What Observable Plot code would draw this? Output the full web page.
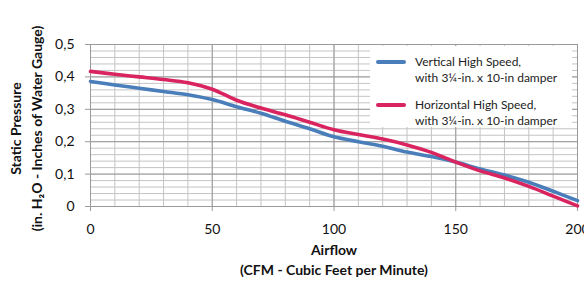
<!DOCTYPE html>
<html>
<head>
<meta charset="utf-8">
<script src="https://cdn.jsdelivr.net/npm/d3@7"></script>
<script src="https://cdn.jsdelivr.net/npm/@observablehq/plot@0.6"></script>
<style>
  html, body { margin: 0; padding: 0; background: #fff; }
  #wrap { position: relative; width: 584px; height: 285px; font-family: Lato, "Open Sans", sans-serif; }
  #legend { position: absolute; left: 370px; top: 46px; width: 202px; height: 81px; background: #fff; font-size: 12px; color: #222; }
  .item { position: absolute; left: 6px; display: flex; align-items: flex-start; }
  .sw { width: 30px; height: 3.5px; margin-top: 6px; margin-right: 9px; border-radius: 2px; }
  .lbl { line-height: 16px; }
</style>
</head>
<body>
<div id="wrap"></div>
<script>
const airflow = [0,10,20,30,40,50,60,70,80,90,100,110,120,130,140,150,160,170,180,190,200];
const verticalHS = [0.386,0.375,0.365,0.355,0.345,0.330,0.308,0.288,0.263,0.240,0.215,0.200,0.186,0.168,0.154,0.137,0.116,0.097,0.075,0.047,0.018];
const horizontalHS = [0.417,0.408,0.400,0.392,0.382,0.362,0.328,0.304,0.283,0.260,0.237,0.222,0.208,0.190,0.167,0.137,0.110,0.088,0.062,0.032,0.002];
const seriesNames = ["Vertical High Speed,\nwith 3¼-in. x 10-in damper", "Horizontal High Speed,\nwith 3¼-in. x 10-in damper"];
const seriesColors = ["#4a7ebb", "#d9245f"];
const xTicks = [0,50,100,150,200];
const yTicks = [0,0.1,0.2,0.3,0.4,0.5];
const xMinor = d3.range(0, 201, 10);
const yMinor = d3.range(0, 0.5001, 0.02);

const data = [];
airflow.forEach((a,i) => {
  data.push({x:a, y:verticalHS[i], s:seriesNames[0]});
  data.push({x:a, y:horizontalHS[i], s:seriesNames[1]});
});

const fmt = v => v === 0 ? "0" : d3.format(".1f")(v).replace(".", ",");

const chart = Plot.plot({
  width: 584,
  height: 285,
  marginLeft: 90,
  marginRight: 7,
  marginTop: 44,
  marginBottom: 79,
  style: {fontFamily: "Lato, 'Open Sans', sans-serif", fontSize: "14px", color: "#111", background: "#fff"},
  x: {domain: [0,200], axis: null},
  y: {domain: [0,0.5], axis: null},
  color: {domain: seriesNames, range: seriesColors},
  marks: [
    Plot.ruleX(xMinor, {stroke: "#c4c4c4", strokeWidth: 1}),
    Plot.ruleY(yMinor, {stroke: "#c4c4c4", strokeWidth: 1}),
    Plot.ruleX(xTicks, {stroke: "#9a9a9a", strokeWidth: 1}),
    Plot.ruleY(yTicks, {stroke: "#9a9a9a", strokeWidth: 1}),
    Plot.axisX(xTicks, {tickSize: 5, tickPadding: 13, stroke: "#9a9a9a", tickFormat: d => d, fontSize: 14, color: "#111", label: null}),
    Plot.axisY(yTicks, {tickSize: 5, tickPadding: 11, stroke: "#9a9a9a", tickFormat: fmt, fontSize: 14, label: null}),
    Plot.line(data, {x: "x", y: "y", z: "s", stroke: "s", strokeWidth: 3.6, curve: "catmull-rom"}),
    Plot.text(["Airflow"], {frameAnchor: "bottom", dy: 48, fontWeight: "bold", fontSize: 14, fill: "#111"}),
    Plot.text(["(CFM - Cubic Feet per Minute)"], {frameAnchor: "bottom", dy: 68, fontWeight: "bold", fontSize: 14, fill: "#111"}),
    Plot.text(["Static Pressure"], {frameAnchor: "left", textAnchor: "middle", rotate: -90, dx: -74, dy: 3, fontWeight: "bold", fontSize: 14, fill: "#111"}),
    Plot.text(["(in. H₂O - Inches of Water Gauge)"], {frameAnchor: "left", textAnchor: "middle", rotate: -90, dx: -53, dy: 3, fontWeight: "bold", fontSize: 14, fill: "#111"})
  ]
});

const wrap = document.getElementById("wrap");
wrap.appendChild(chart);
const legend = document.createElement("div");
legend.id = "legend";
seriesNames.forEach((n, i) => {
  const it = document.createElement("div");
  it.className = "item";
  it.style.top = (8 + i * 43) + "px";
  const sw = document.createElement("div");
  sw.className = "sw";
  sw.style.background = seriesColors[i];
  const lb = document.createElement("div");
  lb.className = "lbl";
  lb.innerHTML = n.split("\n").join("<br>");
  it.appendChild(sw); it.appendChild(lb);
  legend.appendChild(it);
});
wrap.appendChild(legend);
</script>
</body>
</html>
